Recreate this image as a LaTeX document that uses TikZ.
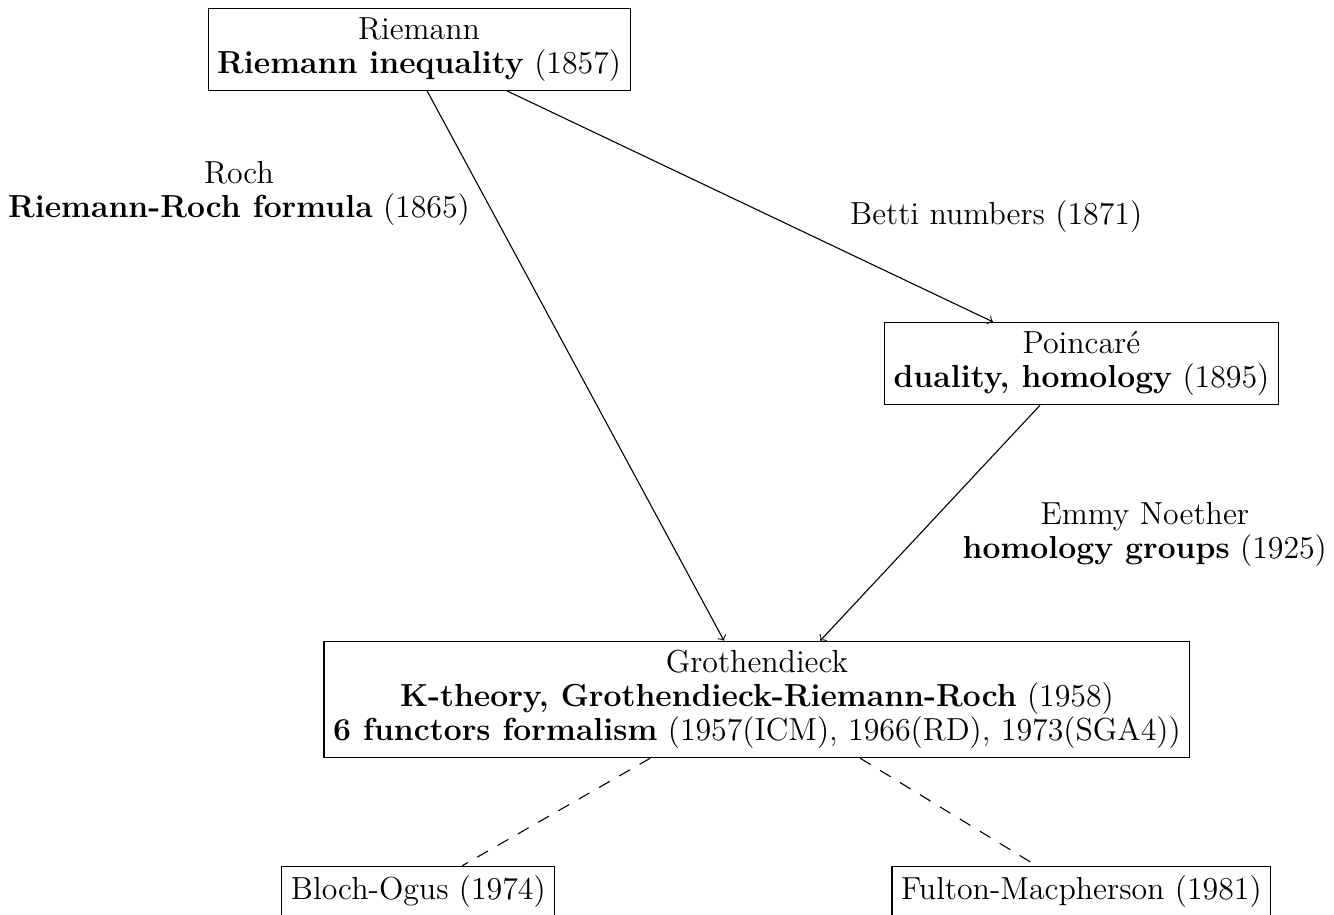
\documentclass[tikz,border=0pt]{standalone}
\usepackage{amsmath}
\usepackage{xcolor}
\usetikzlibrary{calc}

\begin{document}
\begin{tikzpicture}[font=\fontsize{11.6}{12.3}\selectfont, entry/.style={draw, align=center}, note/.style={align=center}, later/.style={dash pattern=on 4.5pt off 4pt}]
\useasboundingbox (0,0) rectangle (17.06,-11.70);
\node [entry] (riemann) at (5.36,-0.633) {Riemann \\ \textbf{Riemann inequality} (1857)};
\node [entry] (poincare) at (13.83,-4.65) {Poincar\'e \\ \textbf{duality, homology} (1895)};
\node [entry] (groth) at (9.68,-8.945) {Grothendieck \\ \textbf{K-theory, Grothendieck-Riemann-Roch} (1958) \\ \textbf{6 functors formalism} (1957(ICM), 1966(RD), 1973(SGA4))};
\node [entry] (bloch) at (5.35,-11.40) {Bloch-Ogus (1974)};
\node [entry] (fulton) at (13.83,-11.40) {Fulton-Macpherson (1981)};

\node [note] (roch) at (3.056,-2.47) {Roch \\ \textbf{Riemann-Roch formula} (1865)};
\node [note] (betti) at (12.74,-2.775) {Betti numbers (1871)};
\node [note] (noether) at (14.64,-6.83) {Emmy Noether \\ \textbf{homology groups} (1925)};

\draw [->] ($(riemann.south west)!0.519!(riemann.south east)$) -- ($(groth.north west)!0.462!(groth.north east)$);
\draw [->] ($(riemann.south west)!0.708!(riemann.south east)$) -- ($(poincare.north west)!0.276!(poincare.north east)$);
\draw [->] ($(poincare.south west)!0.395!(poincare.south east)$) -- ($(groth.north west)!0.573!(groth.north east)$);
\draw [later] ($(groth.south west)!0.377!(groth.south east)$) -- ($(bloch.north west)!0.66!(bloch.north east)$);
\draw [later] ($(groth.south west)!0.619!(groth.south east)$) -- ($(fulton.north west)!0.382!(fulton.north east)$);
\end{tikzpicture}
\end{document}
